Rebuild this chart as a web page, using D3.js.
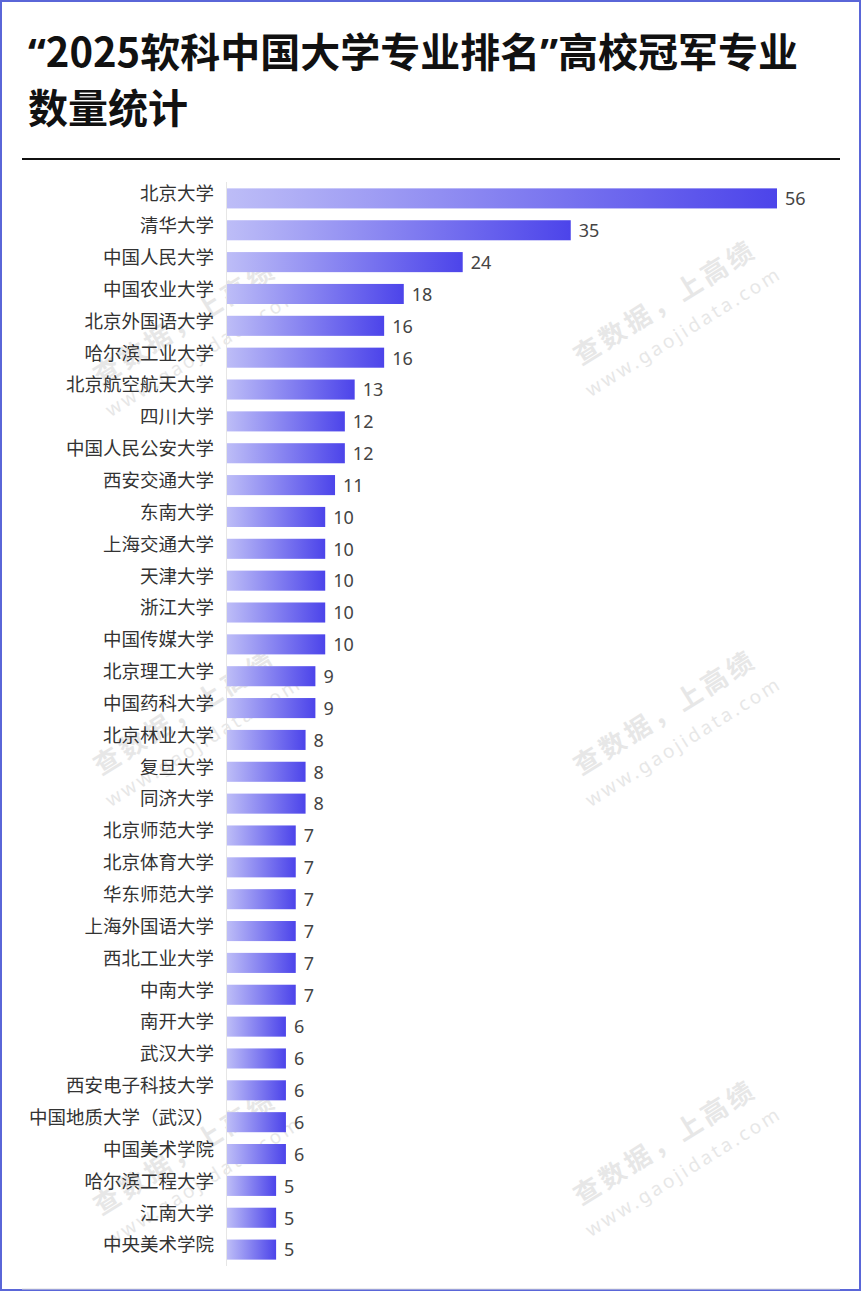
<!DOCTYPE html>
<html lang="zh">
  <head>
    <meta charset="utf-8">
    <script src="https://d3js.org/d3.v7.min.js"></script>
    <style>
      body { margin: 0; background: #fff; }
      .lab { font: 18.5px "Noto Sans CJK SC"; fill: #333; }
      .val { font: 18px "Noto Sans", "Noto Sans CJK SC"; fill: #444; }
    </style>
  </head>
  <body>
    <div id="chart"></div>
    <script>
      var schools = ["北京大学","清华大学","中国人民大学","中国农业大学","北京外国语大学","哈尔滨工业大学","北京航空航天大学","四川大学","中国人民公安大学","西安交通大学","东南大学","上海交通大学","天津大学","浙江大学","中国传媒大学","北京理工大学","中国药科大学","北京林业大学","复旦大学","同济大学","北京师范大学","北京体育大学","华东师范大学","上海外国语大学","西北工业大学","中南大学","南开大学","武汉大学","西安电子科技大学","中国地质大学（武汉）","中国美术学院","哈尔滨工程大学","江南大学","中央美术学院"];
      var counts = [56,35,24,18,16,16,13,12,12,11,10,10,10,10,10,9,9,8,8,8,7,7,7,7,7,7,6,6,6,6,6,5,5,5];

      var w = 861, h = 1291;
      var svg = d3.select("#chart").append("svg").attr("width", w).attr("height", h);

      var grad = svg.append("defs").append("linearGradient").attr("id", "g")
          .attr("x1", 0).attr("x2", 1).attr("y1", 0).attr("y2", 0);
      grad.append("stop").attr("offset", "0%").attr("stop-color", "#bdbdf7");
      grad.append("stop").attr("offset", "100%").attr("stop-color", "#4c44ea");

      svg.append("rect").attr("x", 1).attr("y", 1).attr("width", w - 2).attr("height", h - 2)
          .attr("fill", "#fff").attr("stroke", "#5a66d8").attr("stroke-width", 2);

      var title = svg.append("text").attr("font-family", "Noto Sans CJK SC")
          .attr("font-weight", "bold").attr("font-size", 40).attr("fill", "#111");
      var l1 = title.append("tspan").attr("x", 28).attr("y", 67);
      l1.append("tspan").attr("font-family", "Noto Sans").text("“");
      l1.append("tspan").text("2025软科中国大学专业排名");
      l1.append("tspan").attr("font-family", "Noto Sans").text("”");
      l1.append("tspan").text("高校冠军专业");
      title.append("tspan").attr("x", 28).attr("y", 123).text("数量统计");

      svg.append("line").attr("x1", 22).attr("x2", 840).attr("y1", 159).attr("y2", 159)
          .attr("stroke", "#111").attr("stroke-width", 2);
      svg.append("line").attr("x1", 22).attr("x2", 840).attr("y1", 1289).attr("y2", 1289)
          .attr("stroke", "#ddd").attr("stroke-width", 1);

      // watermarks
      var marks = [[190,330],[670,310],[190,720],[670,720],[190,1160],[670,1150]];
      marks.forEach(function(m){
        var g = svg.append("g").attr("transform", `translate(${m[0]},${m[1]}) rotate(-32)`)
            .attr("fill", "#d4d4d4").attr("opacity", 0.55);
        g.append("text").attr("text-anchor", "middle").attr("font-family", "Noto Sans CJK SC")
            .attr("font-size", 26).attr("font-weight", "bold").attr("letter-spacing", 4).text("查数据，上高绩");
        g.append("text").attr("text-anchor", "middle").attr("y", 32).attr("font-family", "Noto Sans")
            .attr("font-size", 19).attr("letter-spacing", 3).text("www.gaojidata.com");
      });

      var x = d3.scaleLinear().domain([0, 56]).range([227, 777]);
      var y = d3.scaleBand().domain(schools).range([182, 1266]).paddingInner(0.37).paddingOuter(0.2);

      svg.append("line").attr("x1", 226.5).attr("x2", 226.5).attr("y1", 182).attr("y2", 1266)
          .attr("stroke", "#e6e6e6");

      svg.append("g").selectAll("rect").data(counts).enter().append("rect")
          .attr("x", x(0)).attr("y", (d, i) => y(schools[i]))
          .attr("width", d => x(d) - x(0)).attr("height", y.bandwidth())
          .attr("fill", "url(#g)");

      svg.append("g").selectAll("text").data(schools).enter().append("text").attr("class", "lab")
          .attr("x", 214).attr("y", d => y(d) + y.bandwidth() / 2).attr("dy", "0.1em")
          .attr("text-anchor", "end").text(d => d);

      svg.append("g").selectAll("text").data(counts).enter().append("text").attr("class", "val")
          .attr("x", d => x(d) + 8).attr("y", (d, i) => y(schools[i]) + y.bandwidth() / 2).attr("dy", "0.38em")
          .text(d => d);
    </script>
  </body>
</html>
